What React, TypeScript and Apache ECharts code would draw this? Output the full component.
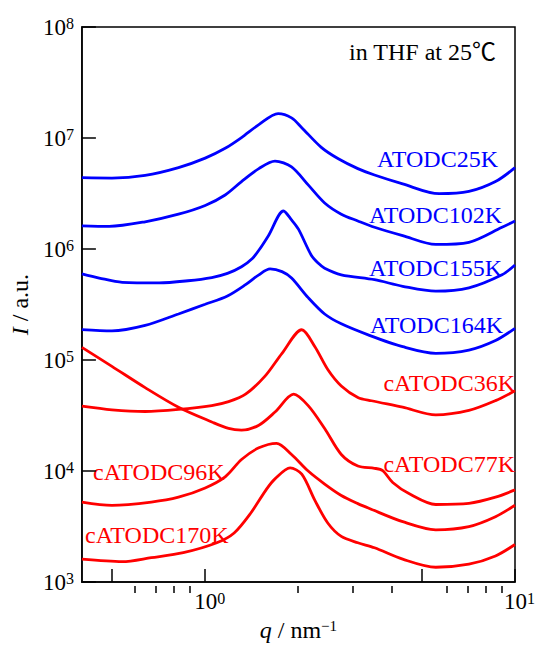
import React, { useEffect, useRef } from "react";
import * as echarts from "echarts";

const FONT = "Liberation Serif, Times New Roman, Noto Sans CJK JP, serif";
const BLUE = "#0000ff";
const RED = "#ff0000";

// q (nm^-1) and I (a.u.) for each sample
const q_ATODC25K = [0.4, 0.5, 0.64, 0.82, 1.0, 1.16, 1.31, 1.49, 1.72, 1.9, 2.05, 2.37, 2.69, 3.11, 3.52, 4.34, 5.69, 7.1, 8.65, 10];
const I_ATODC25K = [4.39e6, 4.36e6, 4.6e6, 5.41e6, 6.59e6, 8.08e6, 1.01e7, 1.32e7, 1.66e7, 1.52e7, 1.24e7, 8.24e6, 6.5e6, 5.3e6, 4.64e6, 3.86e6, 3.15e6, 3.3e6, 4.05e6, 5.41e6];

const q_ATODC102K = [0.4, 0.49, 0.64, 0.82, 1.0, 1.16, 1.31, 1.49, 1.68, 1.9, 2.15, 2.43, 2.75, 3.11, 3.52, 4.34, 5.55, 7.1, 9.08, 10];
const I_ATODC102K = [1.62e6, 1.6e6, 1.76e6, 2.06e6, 2.47e6, 3.07e6, 4.05e6, 5.3e6, 6.2e6, 5.49e6, 3.78e6, 2.6e6, 2.06e6, 1.79e6, 1.57e6, 1.32e6, 1.1e6, 1.15e6, 1.57e6, 1.79e6];

const q_ATODC155K = [0.4, 0.455, 0.54, 0.71, 0.88, 1.05, 1.18, 1.31, 1.42, 1.49, 1.6, 1.79, 1.9, 2.0, 2.2, 2.32, 2.43, 2.75, 3.52, 4.34, 5.55, 7.1, 9.08, 10];
const I_ATODC155K = [5.98e5, 5.48e5, 5.01e5, 4.95e5, 5.18e5, 5.54e5, 6.04e5, 6.93e5, 8.23e5, 9.74e5, 1.32e6, 2.2e6, 1.83e6, 1.51e6, 8.8e5, 7.43e5, 6.71e5, 5.86e5, 5.29e5, 4.62e5, 4.17e5, 4.47e5, 5.86e5, 7.18e5];

const q_ATODC164K = [0.4, 0.5, 0.64, 0.82, 1.0, 1.18, 1.35, 1.49, 1.62, 1.77, 1.9, 2.15, 2.43, 2.75, 3.39, 4.34, 5.55, 7.1, 8.65, 10];
const I_ATODC164K = [1.88e5, 1.83e5, 2.05e5, 2.6e5, 3.18e5, 3.78e5, 4.78e5, 5.86e5, 6.62e5, 6.26e5, 5.48e5, 3.65e5, 2.6e5, 2.12e5, 1.67e5, 1.32e5, 1.15e5, 1.23e5, 1.5e5, 1.93e5];

const q_cATODC36K = [0.4, 0.5, 0.64, 0.82, 1.05, 1.19, 1.35, 1.56, 1.77, 2.05, 2.26, 2.49, 2.75, 3.11, 3.44, 4.34, 5.55, 7.1, 8.65, 10];
const I_cATODC36K = [3.84e4, 3.56e4, 3.44e4, 3.59e4, 3.89e4, 4.22e4, 4.93e4, 7.16e4, 1.15e5, 1.875e5, 1.32e5, 8.19e4, 5.85e4, 4.61e4, 4.3e4, 3.76e4, 3.21e4, 3.52e4, 4.31e4, 5.28e4];

const q_cATODC77K = [0.4, 0.5, 0.64, 0.82, 1.05, 1.19, 1.31, 1.49, 1.68, 1.93, 2.15, 2.43, 2.75, 3.11, 3.52, 3.74, 4.03, 4.56, 5.55, 7.1, 8.65, 10];
const I_cATODC77K = [1.3e5, 8.78e4, 5.65e4, 3.76e4, 2.77e4, 2.42e4, 2.34e4, 2.59e4, 3.4e4, 4.93e4, 3.89e4, 2.42e4, 1.41e4, 1.11e4, 1.06e4, 1.01e4, 7.9e3, 6.24e3, 5.0e3, 5.12e3, 5.82e3, 6.77e3];

const q_cATODC96K = [0.4, 0.5, 0.67, 0.82, 1.0, 1.16, 1.31, 1.49, 1.7, 1.9, 2.15, 2.43, 2.75, 3.11, 3.39, 4.34, 5.55, 7.1, 8.65, 10];
const I_cATODC96K = [5.26e3, 4.92e3, 5.26e3, 5.82e3, 7.05e3, 8.87e3, 1.27e4, 1.62e4, 1.78e4, 1.41e4, 1.0e4, 7.64e3, 6.03e3, 5.09e3, 4.6e3, 3.5e3, 2.96e3, 3.16e3, 3.88e3, 4.92e3];

const q_cATODC170K = [0.4, 0.54, 0.67, 0.85, 1.09, 1.24, 1.4, 1.58, 1.68, 1.88, 2.05, 2.26, 2.49, 2.75, 3.11, 3.52, 4.34, 5.55, 7.1, 8.65, 10];
const I_cATODC170K = [1.61e3, 1.53e3, 1.66e3, 1.84e3, 2.26e3, 2.77e3, 4.15e3, 6.91e3, 8.51e3, 1.07e4, 9.37e3, 5.44e3, 3.39e3, 2.58e3, 2.26e3, 2.04e3, 1.61e3, 1.36e3, 1.45e3, 1.72e3, 2.18e3];

const seriesDefs = [
  { name: "ATODC25K", q: q_ATODC25K, I: I_ATODC25K, color: BLUE },
  { name: "ATODC102K", q: q_ATODC102K, I: I_ATODC102K, color: BLUE },
  { name: "ATODC155K", q: q_ATODC155K, I: I_ATODC155K, color: BLUE },
  { name: "ATODC164K", q: q_ATODC164K, I: I_ATODC164K, color: BLUE },
  { name: "cATODC36K", q: q_cATODC36K, I: I_cATODC36K, color: RED },
  { name: "cATODC77K", q: q_cATODC77K, I: I_cATODC77K, color: RED },
  { name: "cATODC96K", q: q_cATODC96K, I: I_cATODC96K, color: RED },
  { name: "cATODC170K", q: q_cATODC170K, I: I_cATODC170K, color: RED },
];

const xMajorTicks = [0.5, 1, 5, 10];
const xMinorTicks = [0.6, 0.7, 0.8, 0.9, 2, 3, 4, 6, 7, 8, 9];
const xLabelValues = [1, 10];

// label positions (pixels)
const seriesLabels = [
  { text: "ATODC25K", x: 498, y: 159, align: "right", color: BLUE },
  { text: "ATODC102K", x: 502, y: 215, align: "right", color: BLUE },
  { text: "ATODC155K", x: 502, y: 268, align: "right", color: BLUE },
  { text: "ATODC164K", x: 503, y: 325, align: "right", color: BLUE },
  { text: "cATODC36K", x: 515, y: 383, align: "right", color: RED },
  { text: "cATODC77K", x: 515, y: 464, align: "right", color: RED },
  { text: "cATODC96K", x: 93, y: 472, align: "left", color: RED },
  { text: "cATODC170K", x: 85, y: 535, align: "left", color: RED },
];

const GRID = { left: 80, right: 22, top: 27, bottom: 54 };

const powRich = {
  b: { fontSize: 23, fontFamily: FONT, color: "#000", lineHeight: 23, verticalAlign: "middle" },
  s: { fontSize: 16, fontFamily: FONT, color: "#000", lineHeight: 16, verticalAlign: "top" },
};
const powFmt = (v: number) => `{b|10}{s|${Math.round(Math.log10(v))}}`;

export default function App() {
  const ref = useRef<HTMLDivElement>(null);
  useEffect(() => {
    document.body.style.margin = "0";
    const chart = echarts.init(ref.current!, undefined, { renderer: "svg" });
    const option: any = {
      animation: false,
      backgroundColor: "#fff",
      textStyle: { fontFamily: FONT },
      grid: [
        { ...GRID, show: true, borderColor: "#000", borderWidth: 1.5, backgroundColor: "transparent" },
        { ...GRID, show: false },
      ],
      xAxis: [
        {
          type: "log",
          logBase: 10,
          gridIndex: 0,
          min: 0.4,
          max: 10,
          position: "bottom",
          axisLine: { show: true, lineStyle: { color: "#000", width: 1.5 } },
          axisTick: { show: true, inside: true, length: 13, customValues: xMajorTicks, lineStyle: { color: "#000", width: 1.5 } },
          axisLabel: { show: true, customValues: xLabelValues, formatter: powFmt, rich: powRich, margin: 8, padding: [0, 0, 0, 9] },
          splitLine: { show: false },
          name: "{i|q}{r| / nm}{s|\u22121}",
          nameLocation: "middle",
          nameGap: 28,
          nameTextStyle: {
            rich: {
              i: { fontSize: 24, fontFamily: FONT, fontStyle: "italic", color: "#000", lineHeight: 24, verticalAlign: "middle" },
              r: { fontSize: 24, fontFamily: FONT, color: "#000", lineHeight: 24, verticalAlign: "middle" },
              s: { fontSize: 15, fontFamily: FONT, color: "#000", lineHeight: 15, verticalAlign: "top" },
            },
          },
        },
        {
          type: "log",
          logBase: 10,
          gridIndex: 1,
          min: 0.4,
          max: 10,
          position: "bottom",
          axisLine: { show: false },
          axisTick: { show: true, inside: true, length: 7, customValues: xMinorTicks, lineStyle: { color: "#000", width: 1.5 } },
          axisLabel: { show: false },
          splitLine: { show: false },
        },
      ],
      yAxis: [
        {
          type: "log",
          logBase: 10,
          gridIndex: 0,
          min: 1e3,
          max: 1e8,
          axisLine: { show: true, lineStyle: { color: "#000", width: 1.5 } },
          axisTick: { show: true, inside: true, length: 14, lineStyle: { color: "#000", width: 1.5 } },
          axisLabel: { show: true, formatter: powFmt, rich: powRich, margin: 8 },
          splitLine: { show: false },
          name: "{i|I}{r| / a.u.}",
          nameLocation: "middle",
          nameRotate: 90,
          nameGap: 43,
          nameTextStyle: {
            rich: {
              i: { fontSize: 24, fontFamily: FONT, fontStyle: "italic", color: "#000" },
              r: { fontSize: 24, fontFamily: FONT, color: "#000" },
            },
          },
        },
        {
          type: "log",
          gridIndex: 1,
          min: 1e3,
          max: 1e8,
          axisLine: { show: false },
          axisTick: { show: false },
          axisLabel: { show: false },
          splitLine: { show: false },
        },
      ],
      series: seriesDefs.map((s) => ({
        name: s.name,
        type: "line",
        xAxisIndex: 0,
        yAxisIndex: 0,
        data: s.q.map((x, i) => [x, s.I[i]]),
        showSymbol: false,
        smooth: 0.3,
        lineStyle: { color: s.color, width: 2.8 },
        itemStyle: { color: s.color },
        silent: true,
      })),
      graphic: [
        {
          type: "text",
          x: 496,
          y: 52,
          style: {
            text: "in THF at 25\u2103",
            fontSize: 24,
            fontFamily: FONT,
            fill: "#000",
            align: "right",
            verticalAlign: "middle",
          },
        },
        ...seriesLabels.map((l) => ({
          type: "text",
          x: l.x,
          y: l.y,
          style: {
            text: l.text,
            fontSize: 24,
            fontFamily: FONT,
            fill: l.color,
            align: l.align,
            verticalAlign: "middle",
          },
        })),
      ],
    };
    chart.setOption(option);
    return () => chart.dispose();
  }, []);
  return <div ref={ref} style={{ width: 538, height: 647 }} />;
}
